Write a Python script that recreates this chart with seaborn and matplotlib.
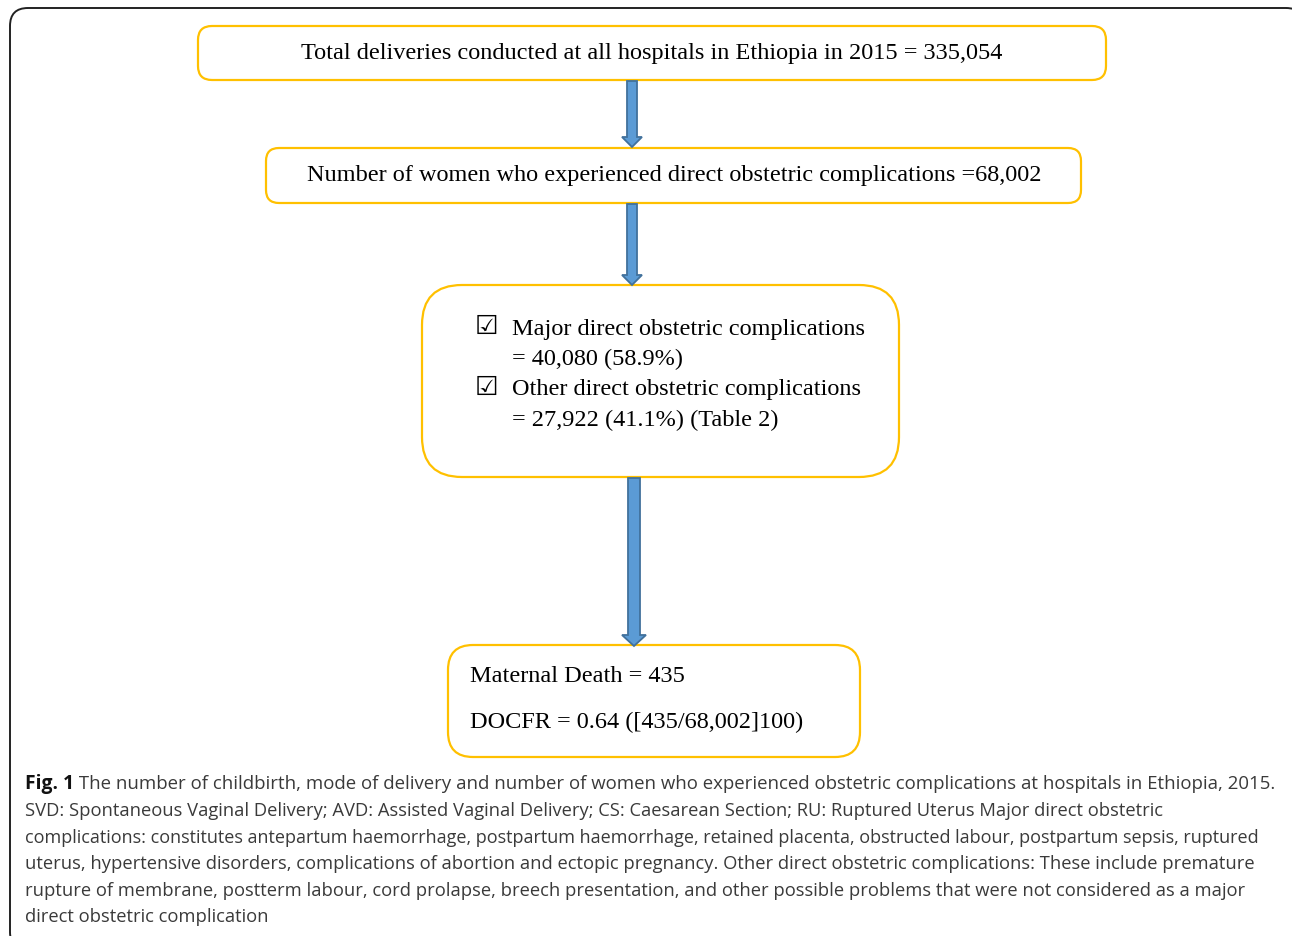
import matplotlib
matplotlib.use("Agg")
import matplotlib.pyplot as plt
from matplotlib.patches import FancyBboxPatch, FancyArrow
import seaborn as sns

sns.set_theme(style="white")
plt.rcParams['font.family'] = ['Liberation Serif', 'DejaVu Sans']

# ---- data ----
total_deliveries = "335,054"
women_complications = "68,002"
major_count = "40,080"
major_pct = "58.9%"
other_count = "27,922"
other_pct = "41.1%"
maternal_deaths = "435"
docfr = "0.64"

box_texts = [
    f"Total deliveries conducted at all hospitals in Ethiopia in 2015 = {total_deliveries}",
    f"Number of women who experienced direct obstetric complications ={women_complications}",
]
check_lines = [
    ("Major direct obstetric complications", f"= {major_count} ({major_pct})"),
    ("Other direct obstetric complications", f"= {other_count} ({other_pct}) (Table 2)"),
]
death_lines = [
    f"Maternal Death = {maternal_deaths}",
    f"DOCFR = {docfr} ([{maternal_deaths}/{women_complications}]100)",
]
caption_bold = "Fig. 1"
caption_lines = [
    " The number of childbirth, mode of delivery and number of women who experienced obstetric complications at hospitals in Ethiopia, 2015.",
    "SVD: Spontaneous Vaginal Delivery; AVD: Assisted Vaginal Delivery; CS: Caesarean Section; RU: Ruptured Uterus Major direct obstetric",
    "complications: constitutes antepartum haemorrhage, postpartum haemorrhage, retained placenta, obstructed labour, postpartum sepsis, ruptured",
    "uterus, hypertensive disorders, complications of abortion and ectopic pregnancy. Other direct obstetric complications: These include premature",
    "rupture of membrane, postterm labour, cord prolapse, breech presentation, and other possible problems that were not considered as a major",
    "direct obstetric complication",
]

# ---- figure ----
W, H = 1292, 936
fig = plt.figure(figsize=(W / 100, H / 100), dpi=100)
ax = fig.add_axes([0, 0, 1, 1])
ax.set_xlim(0, W)
ax.set_ylim(H, 0)
ax.axis("off")

BOX_EC = "#FFC000"
ARROW_FC = "#5B9BD5"
ARROW_EC = "#41719C"
serif = ['Liberation Serif', 'DejaVu Sans']
FS = 17.5


def rbox(x0, y0, x1, y1, r, ec=BOX_EC, lw=1.6):
    p = FancyBboxPatch((x0, y0), x1 - x0, y1 - y0,
                       boxstyle=f"round,pad=0,rounding_size={r}",
                       fc="white", ec=ec, lw=lw, zorder=2)
    ax.add_patch(p)


def arrow(x, y0, y1, w, hw, hl):
    a = FancyArrow(x, y0, 0, y1 - y0, width=w, head_width=hw, head_length=hl,
                   length_includes_head=True, fc=ARROW_FC, ec=ARROW_EC, lw=1.3, zorder=3)
    ax.add_patch(a)


# outer frame
rbox(10, 8, 1304, 950, 18, ec="#222222", lw=1.4)

# boxes
rbox(198, 26, 1106, 80, 14)
rbox(266, 148, 1081, 203, 13)
rbox(422, 285, 899, 477, 40)
rbox(448, 645, 860, 757, 25)

# arrows
arrow(632, 81, 147, 10, 20, 10)
arrow(632, 204, 285, 10, 20, 10)
arrow(634, 478, 646, 12, 24, 11)

# box texts
ax.text(652, 53, box_texts[0], fontsize=FS, family=serif, ha="center", va="center", color="black", zorder=4)
ax.text(674, 176, box_texts[1], fontsize=FS, family=serif, ha="center", va="center", color="black", zorder=4)

ys = [329, 359, 390, 420]
for i, (l1, l2) in enumerate(check_lines):
    ax.text(486, ys[2 * i] - 2, "\u2611", fontsize=19, family=['DejaVu Sans'], ha="center", va="center",
            color="black", weight="bold", zorder=4)
    ax.text(512, ys[2 * i], l1, fontsize=FS, family=serif, ha="left", va="center", color="black", zorder=4)
    ax.text(512, ys[2 * i + 1], l2, fontsize=FS, family=serif, ha="left", va="center", color="black", zorder=4)

ax.text(470, 676, death_lines[0], fontsize=FS, family=serif, ha="left", va="center", color="black", zorder=4)
ax.text(470, 722, death_lines[1], fontsize=FS, family=serif, ha="left", va="center", color="black", zorder=4)

# caption
cap_font = ['Open Sans', 'DejaVu Sans']
line_sizes = [13.4, 13.2, 13.0, 13.2, 13.2, 13.2]
CCOL = "#3a3a3a"
line_y = [784, 811, 838, 864, 891, 917]
tb = ax.text(25, line_y[0], caption_bold, fontsize=13.9, family=cap_font, weight="bold",
             ha="left", va="center", color="#111111", zorder=4)
ax.annotate(caption_lines[0], xy=(1, 0.5), xycoords=tb, fontsize=line_sizes[0], family=cap_font,
            ha="left", va="center", color=CCOL, zorder=4)
for y, line, s in zip(line_y[1:], caption_lines[1:], line_sizes[1:]):
    ax.text(25, y, line, fontsize=s, family=cap_font, ha="left", va="center", color=CCOL, zorder=4)

fig.savefig("out.png", dpi=100)
